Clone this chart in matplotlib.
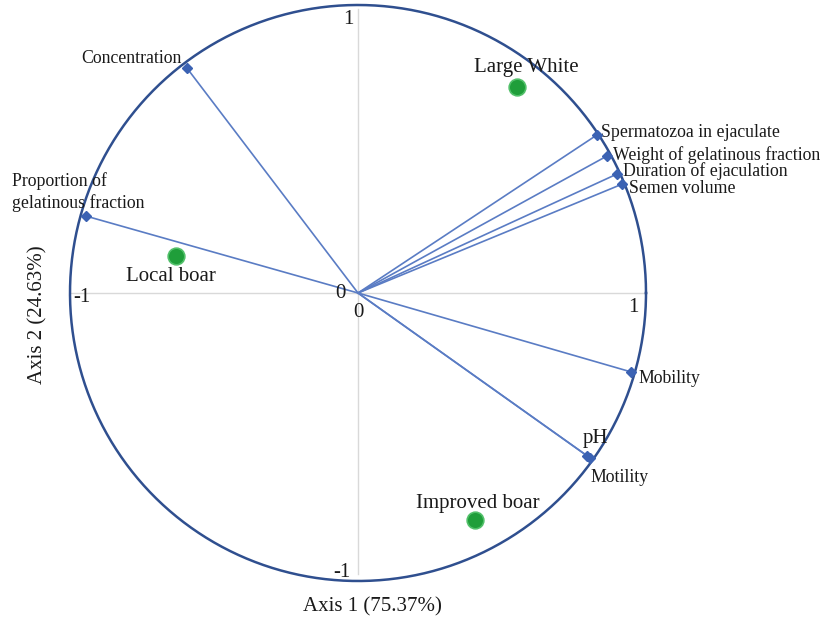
import matplotlib.pyplot as plt
import numpy as np

# correlation circle data (axis 1, axis 2)
variables = ['Concentration', 'Proportion of\ngelatinous fraction', 'Spermatozoa in ejaculate',
             'Weight of gelatinous fraction', 'Duration of ejaculation', 'Semen volume',
             'Mobility', 'pH', 'Motility']
var_x = [-0.594, -0.944, 0.830, 0.865, 0.899, 0.917, 0.948, 0.795, 0.805]
var_y = [0.781, 0.267, 0.549, 0.476, 0.413, 0.378, -0.274, -0.565, -0.572]

breeds = ['Large White', 'Local boar', 'Improved boar']
breed_x = [0.552, -0.632, 0.406]
breed_y = [0.715, 0.128, -0.788]

# label offsets in px (converted to points below)
var_off = [(-5, 10, 'right'), (-74, 4, 'left'), (4, 2, 'left'), (6, 1, 'left'),
           (6, 3, 'left'), (7, -4, 'left'), (7, -7, 'left'), (9, 17, 'center'), (1, -20, 'left')]
breed_off = [(9, 20), (-5, -20), (3, 16)]

plt.rcParams['font.family'] = ['Liberation Serif', 'DejaVu Serif']

fig = plt.figure(figsize=(8.3, 6.23), dpi=100)
ax = fig.add_axes([0, 0, 1, 1])
ax.set_xlim(-358 / 288, 472 / 288)
ax.set_ylim(-330 / 288, 293 / 288)
ax.set_aspect('equal')
ax.axis('off')

# axes cross
ax.plot([-1, 1], [0, 0], color='#d9d9d9', lw=1, zorder=1)
ax.plot([0, 0], [-0.975, 0.985], color='#d9d9d9', lw=1, zorder=1)

t = np.linspace(0, 2 * np.pi, 400)
ax.plot(np.cos(t), np.sin(t), color='#2f4f8f', lw=1.8, zorder=3)

for i, name in enumerate(variables):
    ax.plot([0, var_x[i]], [0, var_y[i]], color='#5a7cc4', lw=1.2, zorder=2)
    ax.plot(var_x[i], var_y[i], marker='D', ms=5, color='#3b62b3', zorder=4)
    dx, dy, ha = var_off[i]
    fs = 15 if name == 'pH' else 12.8
    va = 'bottom' if name.startswith('Proportion') else 'center'
    ax.annotate(name, (var_x[i], var_y[i]), xytext=(dx * 0.72, dy * 0.72),
                textcoords='offset points', ha=ha, va=va, fontsize=fs,
                color='#1a1a1a', linespacing=1.3, multialignment='left')

for i, name in enumerate(breeds):
    ax.plot(breed_x[i], breed_y[i], 'o', ms=12, color='#1f9e3a',
            markeredgecolor='#52c06a', markeredgewidth=1.2, zorder=5)
    dx, dy = breed_off[i]
    ax.annotate(name, (breed_x[i], breed_y[i]), xytext=(dx * 0.72, dy * 0.72),
                textcoords='offset points', ha='center', va='center',
                fontsize=15, color='#1a1a1a')

# tick labels
tick_kw = dict(fontsize=15, color='#1a1a1a', ha='center', va='center')
ax.text(-0.035, 0.948, '1', **tick_kw)
ax.text(-0.056, -0.972, '-1', **tick_kw)
ax.text(-0.958, -0.017, '-1', **tick_kw)
ax.text(0.955, -0.049, '1', **tick_kw)
ax.text(-0.062, 0.0, '0', **tick_kw)
ax.text(0.0, -0.069, '0', **tick_kw)

ax.text(0.049, -1.09, 'Axis 1 (75.37%)', fontsize=15, ha='center', va='center', color='#1a1a1a')
ax.text(-1.111, -0.076, 'Axis 2 (24.63%)', fontsize=15, ha='center', va='center',
        rotation=90, color='#1a1a1a')

fig.savefig('out.png', dpi=100, facecolor='white')
